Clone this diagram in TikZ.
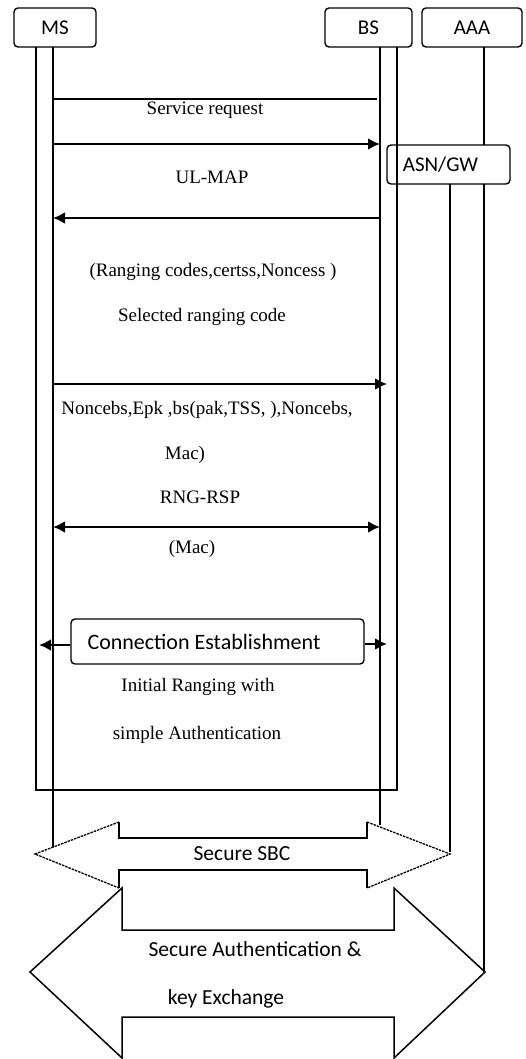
\documentclass[tikz,border=0pt]{standalone}
\usepackage{fontspec}
\setmainfont{Liberation Serif}
\newfontfamily\calib{Carlito}
\usetikzlibrary{arrows.meta}
\tikzset{
  actor/.style={draw,rounded corners=4pt,line width=1.4pt,minimum height=39pt,inner sep=0pt,font=\calib\fontsize{21}{24}\selectfont},
  life/.style={line width=1.5pt},
  msg/.style={line width=2.9pt,-{Latex[length=12pt,width=12pt]}},
  dmsg/.style={line width=2.9pt,{Latex[length=12pt,width=12pt]}-{Latex[length=12pt,width=12pt]}},
  lbl/.style={inner sep=0pt,font=\fontsize{19}{22}\selectfont},
  slbl/.style={inner sep=0pt,font=\calib\fontsize{21.5}{24}\selectfont},
  bigarrow/.style={line width=1.5pt},
  dashedge/.style={line width=1.3pt,dash pattern=on 2.5pt off 1pt}
}
\begin{document}
\begin{tikzpicture}[x=1pt,y=-1pt]
\useasboundingbox (0,0) rectangle (526,1059);
% actors
\node[actor,minimum width=82pt] (ms) at (55,27.5) {MS};
\node[actor,minimum width=87pt] (bs) at (368.5,27.5) {BS};
\node[actor,minimum width=100pt] (aaa) at (472,27.5) {AAA};
\node[actor,minimum width=123pt] (asn) at (448.5,164.5) {\hspace*{-16pt}ASN/GW};
% lifeline coordinates
\coordinate (msA) at (36,47);
\coordinate (msB) at (53,47);
\coordinate (bsA) at (380,47);
\coordinate (bsB) at (397,47);
\coordinate (msAend) at (36,790);
\coordinate (bsBend) at (397,790);
\coordinate (msBend) at (53,847);
\coordinate (bsAend) at (380,825);
\coordinate (aaaT) at (484,47);
\coordinate (aaaM) at (484,145);
\coordinate (aaaN) at (484,184);
\coordinate (aaaE) at (484,972);
\coordinate (asnT) at (450,184);
\coordinate (asnE) at (450,852);
% lifelines
\draw[life] (msA) -- (msAend) -- (bsBend) -- (bsB);
\draw[life] (msB) -- (msBend);
\draw[life] (bsA) -- (bsAend);
\draw[life] (aaaT) -- (aaaM);
\draw[life] (aaaN) -- (aaaE);
\draw[life] (asnT) -- (asnE);
% message coordinates
\coordinate (s1) at (53,99);  \coordinate (e1) at (377,99);
\coordinate (s2) at (53,144); \coordinate (e2) at (380,144);
\coordinate (s3) at (380,218); \coordinate (e3) at (53,218);
\coordinate (s4) at (53,384); \coordinate (e4) at (387,384);
\coordinate (s5) at (53,527); \coordinate (e5) at (380,527);
\coordinate (e6) at (39,645); \coordinate (e7) at (387,644);
% messages
\draw[life] (s1) -- (e1);
\node[lbl] (t1) at (205,110) {Service request};
\draw[msg] (s2) -- (e2);
\node[lbl] (t2) at (212,177) {UL-MAP};
\draw[msg] (s3) -- (e3);
\node[lbl] (t3) at (213,272) {(Ranging codes,certss,Noncess )};
\node[lbl] (t4) at (202,317) {Selected ranging code};
\draw[msg] (s4) -- (e4);
\node[lbl] (t5) at (207,410) {Noncebs,Epk ,bs(pak,TSS, ),Noncebs,};
\node[lbl] (t6) at (185,455) {Mac)};
\node[lbl] (t7) at (200,497) {RNG-RSP};
\draw[dmsg] (s5) -- (e5);
\node[lbl] (t8) at (192,549) {(Mac)};
\node[actor,minimum width=293pt,minimum height=45pt,font=\calib\fontsize{22}{24}\selectfont] (ce) at (217.5,641.5) {\hspace*{-27pt}Connection Establishment};
\draw[msg] (ce.west |- e6) -- (e6);
\draw[msg] (ce.east |- e7) -- (e7);
\node[lbl] (t9) at (198,687) {Initial Ranging with};
\node[lbl] (t10) at (197,735) {simple Authentication};
% Secure SBC double arrow
\draw[bigarrow] (119,822) -- (119,838) -- (367,838) -- (367,822);
\draw[bigarrow] (367,888) -- (367,870) -- (119,870) -- (119,888);
\draw[dashedge] (119,822) -- (35,854) -- (119,888);
\draw[dashedge] (367,822) -- (450,854) -- (367,888);
\node[slbl] (sbc) at (242,854) {Secure SBC};
% Secure authentication double arrow
\draw[bigarrow] (30,972) -- (122,888) -- (122,930) -- (394,930) -- (394,888) -- (485,972) -- (394,1058) -- (394,1017) -- (122,1017) -- (122,1058) -- cycle;
\node[slbl] (sa1) at (255,949) {Secure Authentication \&};
\node[slbl] (sa2) at (226,999) {key Exchange};
\end{tikzpicture}
\end{document}
